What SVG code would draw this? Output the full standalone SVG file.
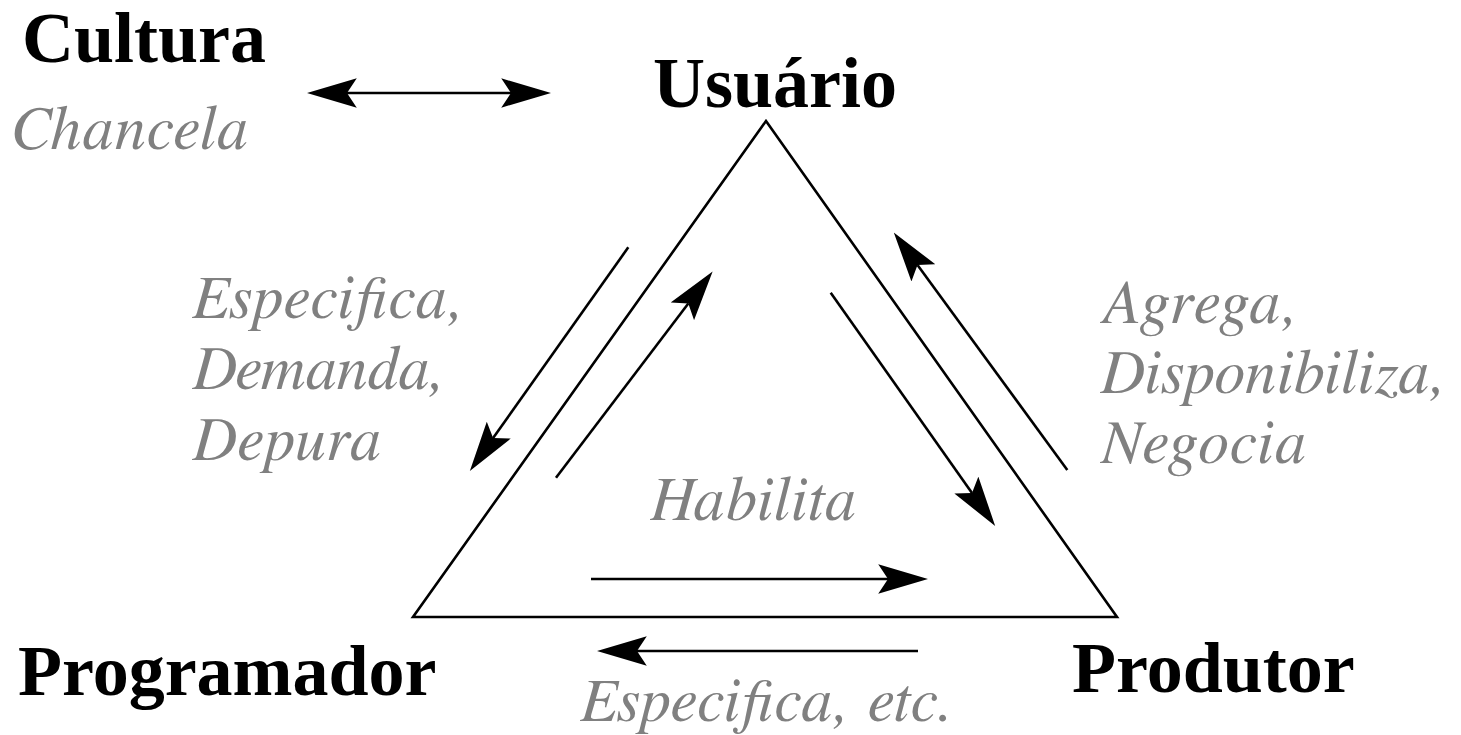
<svg xmlns="http://www.w3.org/2000/svg" width="1461" height="735" viewBox="0 0 1461 735">
<style>
.node{font-family:'Liberation Serif','Times New Roman',serif;font-weight:bold;font-size:72px;fill:#000}
.lbl{font-family:'FreeSerif','Liberation Serif',serif;font-style:italic;font-size:62px;fill:#808080}
.edge{stroke:#000;stroke-width:2.6;fill:none}
</style>
<defs>
<marker id="ah" markerUnits="userSpaceOnUse" markerWidth="50" markerHeight="30" viewBox="0 0 46 27" refX="9" refY="13.5" orient="auto-start-reverse">
<path d="M46,13.5 L0,0 L9,13.5 L0,27 Z" fill="#000"/>
</marker>
</defs>
<rect width="1461" height="735" fill="#fff"/>
<g id="triangle">
<polygon points="766,121 1117,617 413,617" fill="none" stroke="#000" stroke-width="2.6" stroke-linejoin="miter"/>
</g>
<g id="connectors">
<line class="edge" x1="347" y1="93" x2="511" y2="93" marker-start="url(#ah)" marker-end="url(#ah)"/>
<line class="edge" x1="628.3" y1="247.3" x2="493.1" y2="438.1" marker-end="url(#ah)"/>
<line class="edge" x1="556" y1="477.7" x2="688.3" y2="303.5" marker-end="url(#ah)"/>
<line class="edge" x1="830.7" y1="292.7" x2="972" y2="493.1" marker-end="url(#ah)"/>
<line class="edge" x1="1067.3" y1="470" x2="917.5" y2="264.9" marker-end="url(#ah)"/>
<line class="edge" x1="591" y1="579" x2="888" y2="579" marker-end="url(#ah)"/>
<line class="edge" x1="918" y1="651" x2="637" y2="651" marker-end="url(#ah)"/>
</g>
<g id="cultura">
<text class="node" x="22" y="62">Cultura</text>
<text class="lbl" x="12" y="149" textLength="236" lengthAdjust="spacing">Chancela</text>
</g>
<g id="usuario">
<text class="node" x="653" y="107">Usuário</text>
</g>
<g id="programador">
<text class="node" x="18" y="695">Programador</text>
</g>
<g id="produtor">
<text class="node" x="1072" y="692">Produtor</text>
</g>
<g id="label-left">
<text class="lbl" x="192" y="318" textLength="272" lengthAdjust="spacing">Especifica,</text>
<text class="lbl" x="192" y="389" textLength="253" lengthAdjust="spacing">Demanda,</text>
<text class="lbl" x="192" y="460" textLength="189" lengthAdjust="spacing">Depura</text>
</g>
<g id="label-right">
<text class="lbl" x="1100" y="323" textLength="198" lengthAdjust="spacing">Agrega,</text>
<text class="lbl" x="1100" y="393" textLength="346" lengthAdjust="spacing">Disponibiliza,</text>
<text class="lbl" x="1100" y="463" textLength="206" lengthAdjust="spacing">Negocia</text>
</g>
<g id="label-habilita">
<text class="lbl" x="650" y="520" textLength="206" lengthAdjust="spacing">Habilita</text>
</g>
<g id="label-bottom">
<text class="lbl" x="580" y="721" textLength="373" lengthAdjust="spacing">Especifica, etc.</text>
</g>
</svg>
